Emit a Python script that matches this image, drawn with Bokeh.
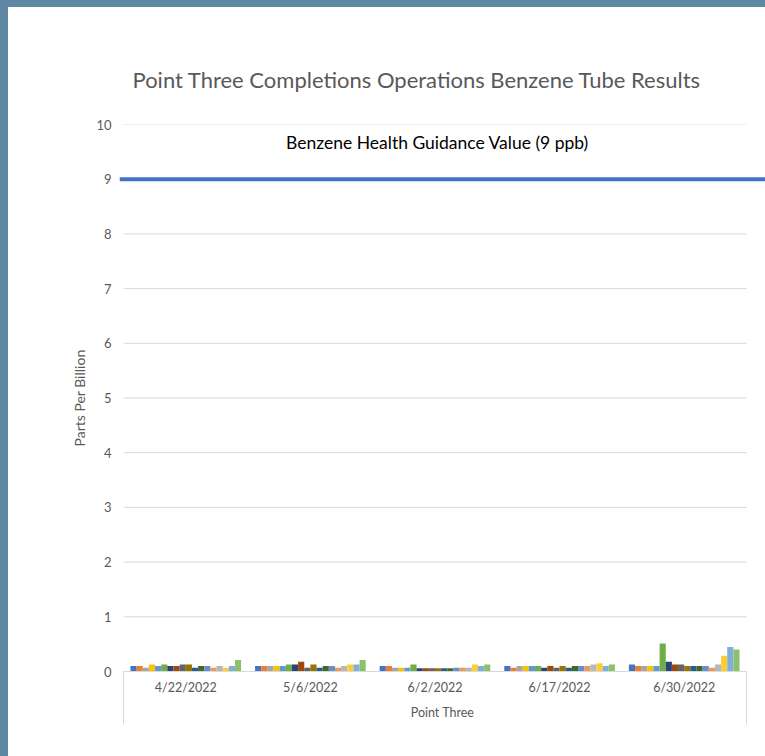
import numpy as np
from bokeh.plotting import figure
from bokeh.models import Range1d, FixedTicker, Span
from bokeh.core.properties import value
from bokeh.embed import file_html
from bokeh.resources import INLINE

# ---------------- data ----------------
dates = ["4/22/2022", "5/6/2022", "6/2/2022", "6/17/2022", "6/30/2022"]
tubes = [f"Tube {i}" for i in range(1, 19)]

# benzene (ppb) per tube, one list per sampling date
ppb_0422 = [0.10, 0.10, 0.07, 0.13, 0.10, 0.13, 0.10, 0.10, 0.13, 0.13, 0.07, 0.10, 0.10, 0.07, 0.10, 0.07, 0.10, 0.21]
ppb_0506 = [0.10, 0.10, 0.10, 0.10, 0.10, 0.13, 0.13, 0.18, 0.07, 0.13, 0.07, 0.10, 0.10, 0.07, 0.10, 0.13, 0.13, 0.21]
ppb_0602 = [0.10, 0.10, 0.07, 0.07, 0.07, 0.13, 0.06, 0.06, 0.06, 0.06, 0.06, 0.06, 0.07, 0.07, 0.07, 0.13, 0.10, 0.13]
ppb_0617 = [0.10, 0.07, 0.10, 0.10, 0.10, 0.10, 0.07, 0.10, 0.07, 0.10, 0.07, 0.10, 0.10, 0.10, 0.13, 0.15, 0.10, 0.13]
ppb_0630 = [0.13, 0.10, 0.10, 0.10, 0.10, 0.51, 0.18, 0.13, 0.13, 0.10, 0.10, 0.10, 0.10, 0.07, 0.13, 0.29, 0.45, 0.40]
by_date = [ppb_0422, ppb_0506, ppb_0602, ppb_0617, ppb_0630]

guidance_value = 9
guidance_label = "Benzene Health Guidance Value (9 ppb)"
y_ticks = list(range(0, 11))

colors = ["#4472C4", "#ED7D31", "#A5A5A5", "#FFC000", "#5B9BD5", "#70AD47",
          "#264478", "#9E480E", "#636363", "#997300", "#255E91", "#43682B",
          "#698ED0", "#F1975A", "#B7B7B7", "#FFCD33", "#7CAFDD", "#8CC168"]

# ---------------- figure ----------------
FONT = "Lato"
TXT = "#595959"
GRID = "#D9D9D9"

n_cat = len(dates)
n_ser = len(tubes)
px_per_unit = 124.6
x_start = -0.5 - 4 / px_per_unit
x_end = n_cat - 0.5 + 19 / px_per_unit

p = figure(width=757, height=749, output_backend="svg", toolbar_location=None,
           x_range=Range1d(x_start, x_end), y_range=Range1d(0, 10),
           min_border_left=111, min_border_right=0, min_border_top=117, min_border_bottom=85,
           title="Point Three Completions Operations Benzene Tube Results")
p.outline_line_color = None
p.background_fill_color = "white"
p.border_fill_color = "white"
p.xgrid.visible = False
p.ygrid.visible = False

p.title.text_font = FONT
p.title.text_font_size = "22px"
p.title.text_font_style = "normal"
p.title.text_color = TXT
p.title.align = "left"
p.title.offset = 13
p.title.standoff = 64

# horizontal gridlines over the category area only
gy = [t for t in y_ticks if t > 0]
p.segment(x0=[-0.5] * len(gy), x1=[n_cat - 0.5] * len(gy), y0=gy, y1=gy,
          line_color=GRID, line_width=1, level="underlay")

# bars
group_frac = 0.888
bw = group_frac / n_ser
cat_x = np.arange(n_cat)
for i, (name, col) in enumerate(zip(tubes, colors)):
    xs = cat_x + (i - (n_ser - 1) / 2) * bw
    tops = [d[i] for d in by_date]
    p.vbar(x=xs, top=tops, width=bw, bottom=0, fill_color=col, line_color=None, name=name)

# guidance line
p.add_layout(Span(location=guidance_value, dimension="width", line_color="#4472C4", line_width=4))
p.text(x=[(n_cat - 1) / 2 + 0.02], y=[guidance_value + 0.67], text=[guidance_label],
       text_align="center", text_baseline="middle", text_font=value(FONT),
       text_font_size="17.5px", text_color="#000000")

# y axis
ya = p.yaxis[0]
ya.ticker = FixedTicker(ticks=y_ticks)
ya.axis_line_color = None
ya.major_tick_line_color = None
ya.minor_tick_line_color = None
ya.major_tick_out = 0
ya.major_tick_in = 0
ya.major_label_standoff = 8
ya.major_label_text_font = FONT
ya.major_label_text_font_size = "13px"
ya.major_label_text_color = TXT
ya.axis_label = "Parts Per Billion"
ya.axis_label_text_font = FONT
ya.axis_label_text_font_size = "14px"
ya.axis_label_text_font_style = "normal"
ya.axis_label_text_color = TXT
ya.axis_label_standoff = 5

# x axis
box_depth = 53
xa = p.xaxis[0]
xa.ticker = FixedTicker(ticks=list(range(n_cat)), minor_ticks=[-0.5, n_cat - 0.5])
xa.bounds = (-0.5001, n_cat - 0.5 + 0.0001)
xa.axis_line_color = GRID
xa.major_tick_line_color = None
xa.major_tick_out = 0
xa.major_tick_in = 0
xa.minor_tick_line_color = GRID
xa.minor_tick_out = box_depth
xa.minor_tick_in = 0
xa.major_label_overrides = {i: d for i, d in enumerate(dates)}
xa.major_label_standoff = 8 - box_depth
xa.major_label_text_font = FONT
xa.major_label_text_font_size = "12.5px"
xa.major_label_text_color = TXT
xa.axis_label = "Point Three"
xa.axis_label_text_font = FONT
xa.axis_label_text_font_size = "12.5px"
xa.axis_label_text_font_style = "normal"
xa.axis_label_text_color = TXT
xa.axis_label_standoff = 7

html = file_html(p, INLINE, title="Point Three Benzene Tube Results")
html = html.replace("</head>",
                    "<style>body{border-left:8px solid #5D87A3;border-top:7px solid #5D87A3;}</style></head>", 1)
open("out.html", "w").write(html)
